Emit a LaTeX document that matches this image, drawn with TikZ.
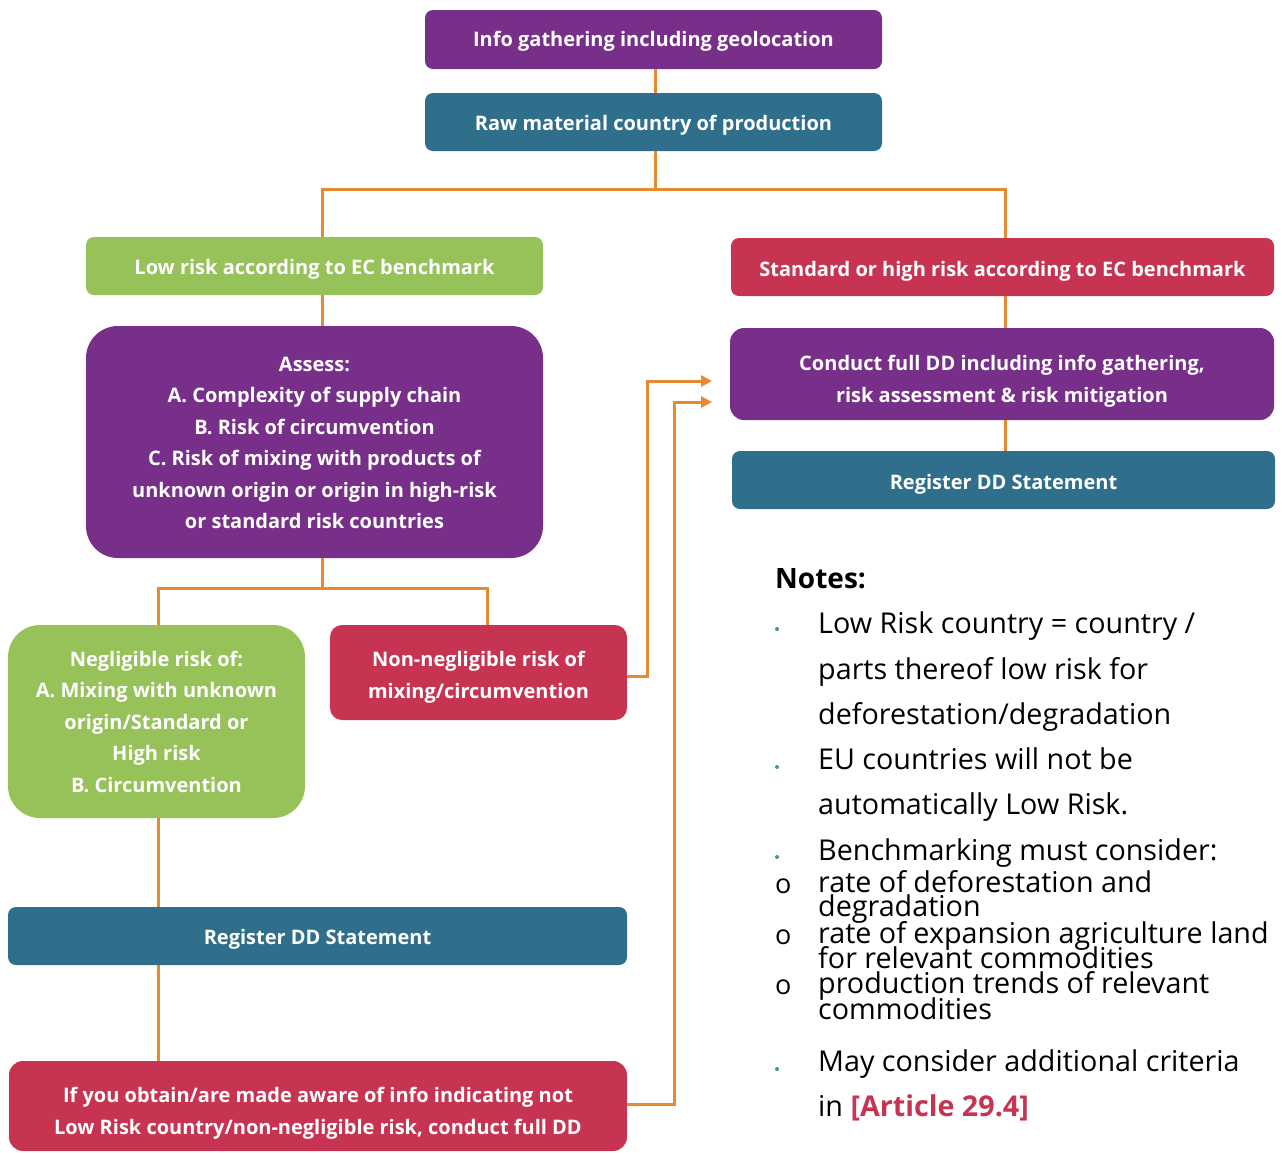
\documentclass[tikz,border=0pt]{standalone}
\usepackage{fontspec}
\setmainfont{Open Sans}
\usetikzlibrary{arrows.meta}
\definecolor{cpurple}{HTML}{772F89}
\definecolor{cteal}{HTML}{2F6F8B}
\definecolor{cgreen}{HTML}{97C25A}
\definecolor{cred}{HTML}{C73452}
\definecolor{corange}{HTML}{E8892F}
\definecolor{cdot}{HTML}{3C9A9A}
\begin{document}
\begin{tikzpicture}[x=1pt,y=-1pt,
  box/.style={inner sep=0pt,rounded corners=8pt},
  btxt/.style={text=white,font=\bfseries\fontsize{20}{31.5}\selectfont,align=center,inner sep=0pt},
  conn/.style={draw=corange,line width=3pt},
  arr/.style={conn,-{Triangle[length=11pt,width=11pt]}},
  note/.style={anchor=base west,font=\fontsize{28.7}{32}\selectfont,inner sep=0pt},
  bul/.style={anchor=base west,font=\fontsize{27}{30}\selectfont,inner sep=0pt},
  dot/.style={circle,fill=cdot,inner sep=0pt,minimum size=4pt},
]
\useasboundingbox (0,0) rectangle (1282,1152);

% boxes
\node[box,fill=cpurple,minimum width=457pt,minimum height=59pt] (info) at (653.5,39.5) {};
\node[box,fill=cteal,minimum width=457pt,minimum height=58pt] (raw) at (653.5,122) {};
\node[box,fill=cgreen,minimum width=457pt,minimum height=58pt] (lowrisk) at (314.5,266) {};
\node[box,fill=cred,minimum width=543pt,minimum height=58pt] (highrisk) at (1002.5,267) {};
\node[box,fill=cpurple,minimum width=457pt,minimum height=232pt,rounded corners=32pt] (assess) at (314.5,442) {};
\node[box,fill=cgreen,minimum width=297pt,minimum height=193pt,rounded corners=32pt] (negl) at (156.5,721.5) {};
\node[box,fill=cred,minimum width=297pt,minimum height=95pt,rounded corners=12pt] (nonneg) at (478.5,672.5) {};
\node[box,fill=cpurple,minimum width=544pt,minimum height=92pt,rounded corners=14pt] (conduct) at (1002,374) {};
\node[box,fill=cteal,minimum width=543pt,minimum height=58pt] (regR) at (1003.5,480) {};
\node[box,fill=cteal,minimum width=619pt,minimum height=58pt] (regL) at (317.5,936) {};
\node[box,fill=cred,minimum width=618pt,minimum height=90pt,rounded corners=14pt] (ifbox) at (318,1106) {};

% box texts (yshift negative = downwards on the page)
\node[btxt] (infoT) at ([yshift=-2pt]info.center) {Info gathering including geolocation};
\node[btxt] (rawT) at ([yshift=-3pt]raw.center) {Raw material country of production};
\node[btxt] (lowriskT) at ([yshift=-3pt]lowrisk.center) {Low risk according to EC benchmark};
\node[btxt] (highriskT) at ([yshift=-4pt]highrisk.center) {Standard or high risk according to EC benchmark};
\node[btxt] (assessT) at ([yshift=-1pt]assess.center) {Assess:\\A. Complexity of supply chain\\B. Risk of circumvention\\C. Risk of mixing with products of\\unknown origin or origin in high-risk\\or standard risk countries};
\node[btxt] (neglT) at (negl.center) {Negligible risk of:\\A. Mixing with unknown\\origin/Standard or\\High risk\\B. Circumvention};
\node[btxt] (nonnegT) at ([yshift=-4.5pt]nonneg.center) {Non-negligible risk of\\mixing/circumvention};
\node[btxt] (conductT) at ([yshift=-7pt]conduct.center) {Conduct full DD including info gathering,\\risk assessment \& risk mitigation};
\node[btxt] (regRT) at ([yshift=-4pt]regR.center) {Register DD Statement};
\node[btxt] (regLT) at ([yshift=-3pt]regL.center) {Register DD Statement};
\node[btxt] (ifboxT) at ([yshift=-7pt]ifbox.center) {If you obtain/are made aware of info indicating not\\Low Risk country/non-negligible risk, conduct full DD};

% connector helpers
\coordinate (j1) at (655,189);
\coordinate (xL) at (322,0);
\coordinate (xR) at (1005,0);
\coordinate (j2) at (322,588);
\coordinate (xNL) at (158,0);
\coordinate (xNR) at (487,0);
\coordinate (a1) at (647,381);
\coordinate (t1) at (712,381);
\coordinate (a2) at (674,402);
\coordinate (t2) at (712,402);

\draw[conn] (info.south -| j1) -- (raw.north -| j1);
\draw[conn] (raw.south -| j1) -- (j1);
\draw[conn] (lowrisk.north -| xL) |- (j1) -| (highrisk.north -| xR);
\draw[conn] (lowrisk.south -| xL) -- (assess.north -| xL);
\draw[conn] (assess.south -| xL) -- (j2);
\draw[conn] (negl.north -| xNL) |- (j2) -| (nonneg.north -| xNR);
\draw[conn] (highrisk.south -| xR) -- (conduct.north -| xR);
\draw[conn] (conduct.south -| xR) -- (regR.north -| xR);
\draw[conn] (negl.south -| xNL) -- (regL.north -| xNL);
\draw[conn] (regL.south -| xNL) -- (ifbox.north -| xNL);
\draw[arr] (nonneg.east |- 0,676) -| (a1) -- (t1);
\draw[arr] (ifbox.east |- 0,1104) -| (a2) -- (t2);

% notes
\node[anchor=base west,inner sep=0pt,font=\bfseries\fontsize{28}{30}\selectfont] (notes) at (775,588) {Notes:};
\node[note] (n1) at (818,633) {Low Risk country = country /};
\node[note] (n2) at (818,679) {parts thereof low risk for};
\node[note] (n3) at (818,724) {deforestation/degradation};
\node[note] (n4) at (818,769) {EU countries will not be};
\node[note] (n5) at (818,814) {automatically Low Risk.};
\node[note] (n6) at (818,860) {Benchmarking must consider:};
\node[note] (n7) at (818,892) {rate of deforestation and};
\node[note] (n8) at (818,916) {degradation};
\node[note] (n9) at (818,943) {rate of expansion agriculture land};
\node[note] (n10) at (818,968) {for relevant commodities};
\node[note] (n11) at (818,993) {production trends of relevant};
\node[note] (n12) at (818,1019) {commodities};
\node[note] (n13) at (818,1071) {May consider additional criteria};
\node[note] (n14) at (818,1116) {in {\bfseries\color{cred}[Article 29.4]}};
\node[dot] (d1) at (777,629) {};
\node[dot] (d2) at (777,767) {};
\node[dot] (d3) at (777,857) {};
\node[dot] (d4) at (777,1069) {};
\node[bul] (o1) at (775,893) {o};
\node[bul] (o2) at (775,944) {o};
\node[bul] (o3) at (775,994) {o};
\end{tikzpicture}
\end{document}
